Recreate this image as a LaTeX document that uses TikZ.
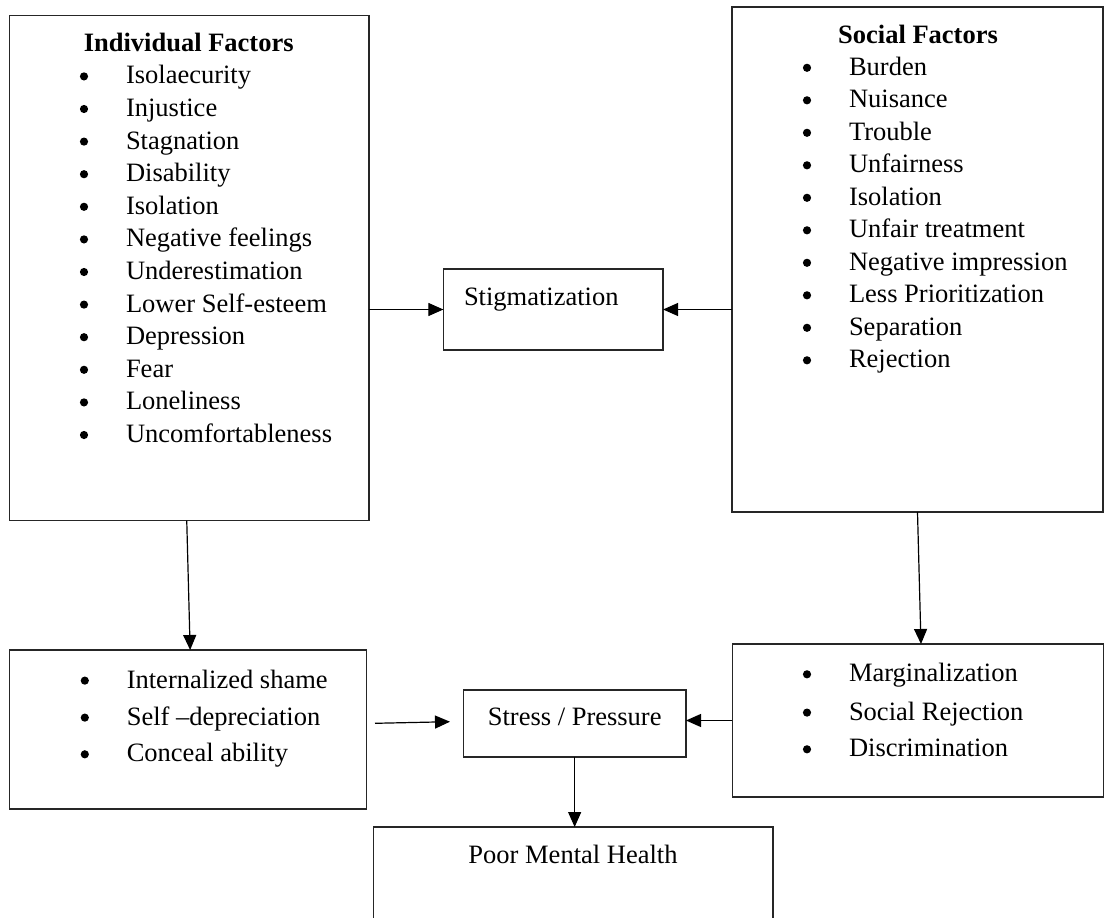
\documentclass[tikz,border=0pt]{standalone}
\usepackage{fontspec}
\setmainfont{Liberation Serif}
\usetikzlibrary{arrows.meta}
\tikzset{
  box/.style={draw=black!85, line width=1.3pt, rectangle, inner sep=0pt, outer sep=0pt},
  txt/.style={inner sep=0pt, outer sep=0pt, font=\fontsize{26.5}{32.6}\selectfont},
  arr/.style={draw=black, line width=1.2pt, -{Triangle[length=15pt,width=13pt]}},
  dot/.style={fill=black},
}
\newcommand\bulat[1]{\fill[dot] ([xshift=-42pt,yshift=7.4pt]#1.base west) circle (4.1pt);}
\begin{document}
\begin{tikzpicture}[x=1pt,y=-1pt]
\path[use as bounding box] (0,0) rectangle (1104,918);
\clip (0,0) rectangle (1104,918);
% boxes
\node[box, minimum width=359.5pt, minimum height=505.4pt] (ind) at (189.25,268) {};
\node[box, minimum width=371pt, minimum height=505pt] (soc) at (917.5,259.5) {};
\node[box, minimum width=219.7pt, minimum height=81pt] (stig) at (553.2,309.5) {};
\node[box, minimum width=357.1pt, minimum height=159pt] (intl) at (188.15,729.5) {};
\node[box, minimum width=222.7pt, minimum height=67pt] (stress) at (574.65,723.5) {};
\node[box, minimum width=371.5pt, minimum height=153pt] (marg) at (918,720.5) {};
\node[box, minimum width=399.7pt, minimum height=140pt] (pmh) at (573.15,897) {};
% titles
\node[txt, anchor=base, font=\fontsize{26.5}{32.6}\selectfont\bfseries] (indt) at (188.7,51) {Individual Factors};
\node[txt, anchor=base, font=\fontsize{26.5}{32.6}\selectfont\bfseries] (soct) at (918,43) {Social Factors};
% individual items
\foreach \t [count=\i from 0] in {Isolaecurity,Injustice,Stagnation,Disability,Isolation,Negative feelings,Underestimation,Lower Self-esteem,Depression,Fear,Loneliness,Uncomfortableness}{
  \node[txt, anchor=base west] (ind\i) at (126,{83.8+\i*32.6}) {\t};
  \bulat{ind\i}
}
% social items
\foreach \t [count=\i from 0] in {Burden,Nuisance,Trouble,Unfairness,Isolation,Unfair treatment,Negative impression,Less Prioritization,Separation,Rejection}{
  \node[txt, anchor=base west] (soc\i) at (849,{75.2+\i*32.5}) {\t};
  \bulat{soc\i}
}
% internalized
\node[txt, anchor=base west] (intl1) at (126.8,688) {Internalized shame};
\node[txt, anchor=base west] (intl2) at (126.8,725) {Self –depreciation};
\node[txt, anchor=base west] (intl3) at (126.8,761.7) {Conceal ability};
\bulat{intl1}\bulat{intl2}\bulat{intl3}
% marginalization
\node[txt, anchor=base west] (marg1) at (849,681.7) {Marginalization};
\node[txt, anchor=base west] (marg2) at (849,720) {Social Rejection};
\node[txt, anchor=base west] (marg3) at (849,756.7) {Discrimination};
\bulat{marg1}\bulat{marg2}\bulat{marg3}
% single labels
\node[txt, anchor=base west] (stigt) at (464,305) {Stigmatization};
\node[txt, anchor=base] (stresst) at (574.7,725.5) {Stress / Pressure};
\node[txt, anchor=base] (pmht) at (573,863) {Poor Mental Health};
% connectors
\draw[arr] (ind.east |- stig.west) -- (stig.west);
\draw[arr] (soc.west |- stig.east) -- (stig.east);
\draw[arr] ([xshift=-2.5pt]ind.south) -- ([xshift=2pt]intl.north);
\draw[arr] (soc.south) -- ([xshift=3pt]marg.north);
\coordinate (fa) at (375,723.3);
\coordinate (fb) at (450,721.7);
\draw[arr] (fa) -- (fb);
\draw[arr] (marg.west) -- (stress.east |- marg.west);
\draw[arr] (stress.south) -- (stress.south |- pmh.north);
\end{tikzpicture}
\end{document}
